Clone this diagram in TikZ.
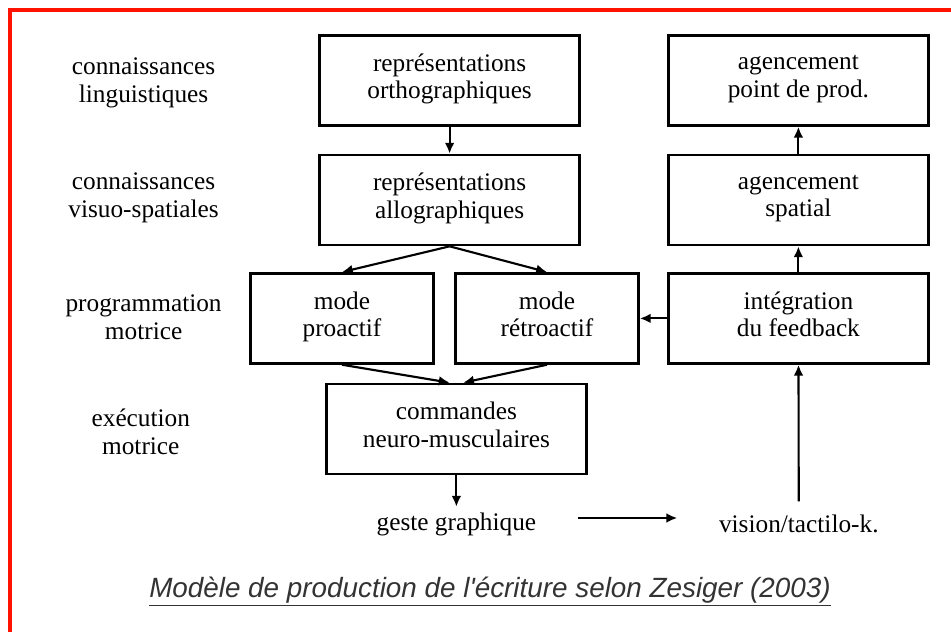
\documentclass[tikz,border=0pt]{standalone}
\usepackage{fontspec}
\setmainfont{Liberation Serif}
\newfontfamily\legendfont{Liberation Sans}
\usetikzlibrary{arrows.meta,positioning,calc}

\begin{document}
\begin{tikzpicture}[>={Latex[length=2.7mm,width=2.4mm]}, line width=1.5pt,
    font=\fontsize{18}{19.5}\selectfont,
    blk/.style={draw, line width=1.9pt, align=center, inner sep=0pt, minimum height=2.25cm,
      execute at begin node=\strut, execute at end node=\strut},
    wide/.style={blk, minimum width=6.5cm},
    narrow/.style={blk, minimum width=4.575cm},
    lvl/.style={align=center}]
  \useasboundingbox (0,0) rectangle (23.775,-15.8);
  % ---- frame
  \draw[red!85!orange, line width=2.2pt] (23.775,-0.25) -- (0.25,-0.25) -- (0.25,-15.8);
  % ---- levels
  \node[lvl] (l1) at (3.59,-2.07) {connaissances\\linguistiques};
  \node[lvl] (l2) at (3.59,-4.95) {connaissances\\visuo-spatiales};
  \node[lvl] (l3) at (3.59,-7.93) {programmation\\motrice};
  \node[lvl] (l4) at (3.52,-10.8) {exécution\\motrice};
  % ---- boxes
  \node[wide] (ortho) at (11.24,-2.01) {représentations\\orthographiques};
  \node[wide] (allo) at (11.24,-5.0) {représentations\\allographiques};
  \node[wide] (prod) at (19.96,-2.01) {agencement\\point de prod.};
  \node[wide] (spatial) at (19.96,-5.0) {agencement\\spatial};
  \node[narrow] (proactif) at (8.55,-7.96) {mode\\proactif};
  \node[narrow] (retro) at (13.675,-7.96) {mode\\rétroactif};
  \node[wide] (integ) at (19.96,-7.96) {intégration\\du feedback};
  \node[wide] (cmd) at (11.41,-10.725) {commandes\\neuro-musculaires};
  \node (geste) at (11.41,-13.1) {geste graphique};
  \node (vision) at (19.97,-13.1) {vision/tactilo-k.};
  % ---- arrows
  \draw[->] (ortho) -- (allo);
  \draw[->] (allo.south) -- (proactif.north);
  \draw[->] (allo.south) -- (retro.north);
  \draw[->] (proactif.south) -- ([xshift=-0.17cm]cmd.north);
  \draw[->] (retro.south) -- ([xshift=0.17cm]cmd.north);
  \draw[->] (cmd) -- (cmd |- geste.north);
  \draw[->, shorten <=0.9cm, shorten >=0.9cm] ([yshift=0.15cm]geste.east) -- ([yshift=0.15cm]vision.west);
  \draw[->, shorten <=0.2cm] (vision) -- (integ);
  \draw[->] (integ) -- (retro);
  \draw[->] (integ) -- (spatial);
  \draw[->] (spatial) -- (prod);
  % ---- caption
  \node[font=\legendfont\itshape\fontsize{19.8}{21}\selectfont, text=black!80] (titre) at (12.25,-14.8)
    {\underline{Modèle de production de l'écriture selon Zesiger (2003)}};
\end{tikzpicture}
\end{document}
